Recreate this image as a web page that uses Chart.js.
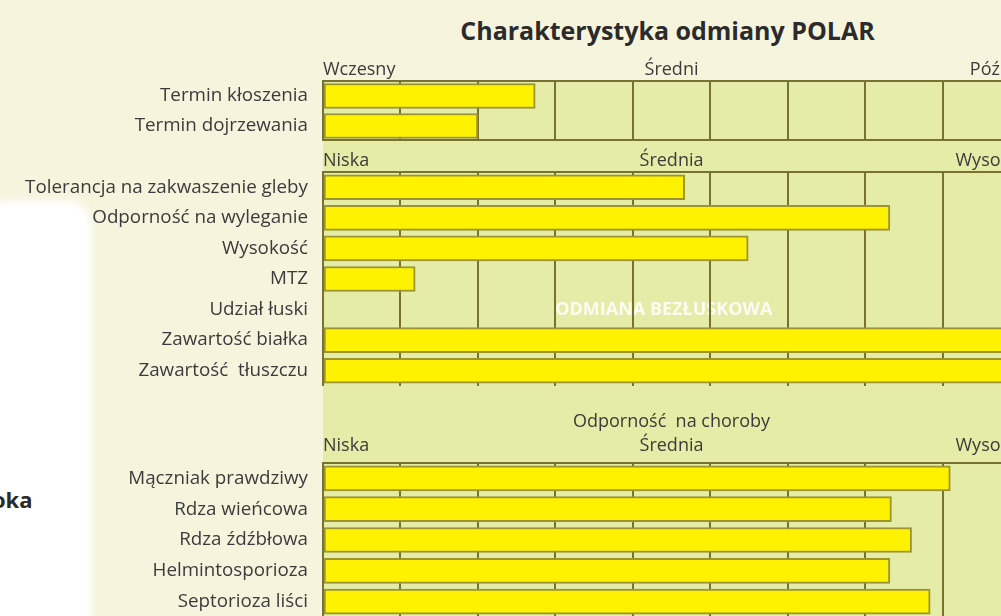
<!DOCTYPE html>
<html>
<head>
<meta charset="utf-8">
<script src="https://cdn.jsdelivr.net/npm/chart.js@4.4.0/dist/chart.umd.min.js"></script>
<style>
  html, body { margin: 0; padding: 0; }
  body { width: 1001px; height: 616px; overflow: hidden; background: #f7f4de; position: relative; font-family: 'Open Sans', sans-serif; }
  #leftPanel { position: absolute; left: 0; top: 206px; width: 86px; height: 430px; background: #fff; border-top-right-radius: 18px; box-shadow: 0 0 8px 5px #fff; }
  #sideWord { position: absolute; left: -8px; top: 484px; font-weight: bold; font-size: 22px; color: #2a2a2a; }
  #title { position: absolute; left: 319px; width: 697px; top: 14px; text-align: center; font-weight: bold; font-size: 25px; color: #2b2b2b; line-height: 32px; }
  canvas { position: absolute; left: 0; }
</style>
</head>
<body>
<div id="leftPanel"></div>
<div id="sideWord">oka</div>
<div id="title">Charakterystyka odmiany POLAR</div>
<canvas id="t1" width="1040" height="93" style="top:48px"></canvas>
<canvas id="t2" width="1040" height="245" style="top:141px"></canvas>
<canvas id="t3" width="1040" height="231" style="top:386px"></canvas>
<script>
// --- data (scale 0..9, one grid cell = 1) ---
const timingLabels = ['Termin kłoszenia', 'Termin dojrzewania'];
const timingValues = [2.74, 2.0];
const timingScale = ['Wczesny', 'Średni', 'Późny'];

const traitLabels = ['Tolerancja na zakwaszenie gleby', 'Odporność na wyleganie', 'Wysokość', 'MTZ',
  'Udział łuski', 'Zawartość białka', 'Zawartość  tłuszczu'];
const traitValues = [4.67, 7.32, 5.49, 1.19, null, 9, 9];
const traitNotes = ['', '', '', '', 'ODMIANA BEZŁUSKOWA', '', ''];
const levelScale = ['Niska', 'Średnia', 'Wysoka'];

const diseaseTitle = 'Odporność  na choroby';
const diseaseLabels = ['Mączniak prawdziwy', 'Rdza wieńcowa', 'Rdza źdźbłowa', 'Helmintosporioza', 'Septorioza liści'];
const diseaseValues = [8.10, 7.34, 7.60, 7.32, 7.84];

const GREEN = '#e4eca7';
const YELLOW = '#fff200';
const OLIVE = '#77722f';
const BAR_EDGE = '#9b9430';
const TEXT = '#3b3b3b';
const FONT = "'Open Sans', sans-serif";

// green table background (+ optional note text under the grid)
const tableBg = {
  id: 'tableBg',
  beforeDraw(chart, args, opts) {
    const { ctx, chartArea, scales } = chart;
    const top = opts.fillHeader ? 0 : chartArea.top;
    ctx.save();
    ctx.fillStyle = GREEN;
    ctx.fillRect(chartArea.left, top, chartArea.right - chartArea.left, chartArea.bottom - top);
    if (opts.notes) {
      ctx.fillStyle = 'rgba(255,255,255,0.85)';
      ctx.font = "bold 18px " + FONT;
      ctx.textAlign = 'center';
      ctx.textBaseline = 'middle';
      opts.notes.forEach((note, i) => {
        if (note) ctx.fillText(note, scales.x.getPixelForValue(4.4), scales.y.getPixelForValue(i));
      });
    }
    ctx.restore();
  },
  afterDatasetsDraw(chart, args, opts) {
    if (!opts.bottomLine) return;
    const { ctx, chartArea } = chart;
    ctx.save();
    ctx.strokeStyle = OLIVE;
    ctx.lineWidth = 2;
    ctx.beginPath();
    ctx.moveTo(chartArea.left, chartArea.bottom - 1);
    ctx.lineTo(chartArea.right, chartArea.bottom - 1);
    ctx.stroke();
    ctx.restore();
  }
};

function makeTable(id, labels, values, scaleLabels, cfg) {
  const xScale = {
    type: 'linear',
    position: 'top',
    min: 0,
    max: 9,
    afterFit: (s) => { s.height = cfg.axisHeight; s.paddingLeft = 0; s.paddingRight = 0; },
    grid: {
      drawTicks: false,
      lineWidth: 2,
      color: (c) => Number.isInteger(c.tick.value) ? OLIVE : 'rgba(0,0,0,0)'
    },
    border: { display: true, color: OLIVE, width: 2 },
    ticks: {
      stepSize: 0.5,
      autoSkip: false,
      maxRotation: 0,
      align: 'inner',
      padding: cfg.tickPad,
      color: TEXT,
      font: { family: FONT, size: 18 },
      callback: (v) => v === 0 ? scaleLabels[0] : v === 4.5 ? scaleLabels[1] : v === 9 ? scaleLabels[2] : ''
    }
  };
  if (cfg.title) {
    xScale.title = {
      display: true,
      text: cfg.title,
      color: TEXT,
      font: { family: FONT, size: 18 },
      padding: { top: cfg.titlePad, bottom: 0 }
    };
  }

  return new Chart(document.getElementById(id), {
    type: 'bar',
    data: {
      labels: labels,
      datasets: [{
        data: values,
        backgroundColor: YELLOW,
        borderColor: BAR_EDGE,
        borderWidth: 2,
        borderSkipped: false,
        barThickness: 25
      }]
    },
    options: {
      indexAxis: 'y',
      responsive: false,
      animation: false,
      layout: { padding: { left: 0, right: 20, top: 0, bottom: 0 } },
      scales: {
        x: xScale,
        y: {
          type: 'category',
          afterFit: (s) => { s.width = 323; s.paddingTop = 0; s.paddingBottom = 0; },
          grid: { display: false, drawTicks: false },
          border: { display: false },
          ticks: { autoSkip: false, color: TEXT, padding: 15, font: { family: FONT, size: 18.8 } }
        }
      },
      plugins: {
        legend: { display: false },
        tooltip: { enabled: false },
        tableBg: { fillHeader: cfg.fillHeader, notes: cfg.notes, bottomLine: cfg.bottomLine }
      }
    },
    plugins: [tableBg]
  });
}

makeTable('t1', timingLabels, timingValues, timingScale,
  { axisHeight: 33, tickPad: 0, fillHeader: false, bottomLine: true });
makeTable('t2', traitLabels, traitValues, levelScale,
  { axisHeight: 31, tickPad: 0, fillHeader: true, notes: traitNotes });
makeTable('t3', diseaseLabels, diseaseValues, levelScale,
  { axisHeight: 77, tickPad: 6, fillHeader: true, title: diseaseTitle, titlePad: 25 });
</script>
</body>
</html>
